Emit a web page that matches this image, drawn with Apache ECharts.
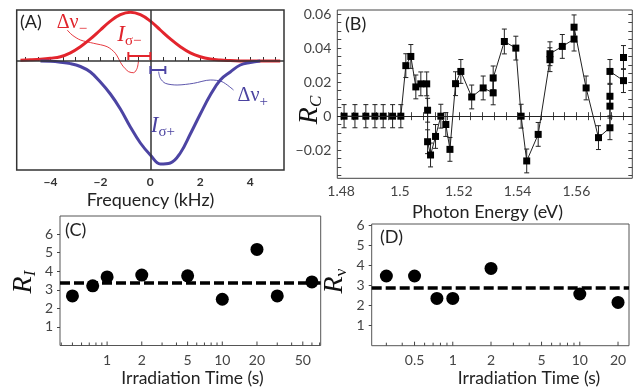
<!DOCTYPE html>
<html><head><meta charset="utf-8">
<script src="https://cdn.jsdelivr.net/npm/echarts@6/dist/echarts.min.js"></script>
<style>html,body{margin:0;padding:0;background:#fff}#c{width:637px;height:388px}</style>
</head><body><div id="c"></div><script>
// ---------- Panel A : spectra ----------
const aFreq = [-5.2,-4.8,-4.4,-4.0,-3.6,-3.2,-2.8,-2.4,-2.0,-1.6,-1.2,-0.8,-0.4,0,0.4,0.8,1.2,1.6,2.0,2.4,2.8,3.2,3.6,4.0,4.4,4.8,5.2];
const aRed  = [0.8,1.2,1.8,2.8,4.3,8.2,14.3,22.1,31,39.9,46.3,48.7,46.3,39.9,31,22.1,14.3,8.2,4.3,2.0,0.9,0.4,0.1,0,0,0,0];
const aBlue = [null,null,0,-0.3,-1.2,-2.6,-5.5,-11,-21,-33,-48,-66,-82,-94,-103,-102,-92,-73,-53,-34,-19,-11,-4,-1.5,0,null,null];
const aTickLabels = [-4,-2,0,2,4];
const aTicks = [-5,-4.5,-4,-3.5,-3,-2.5,-2,-1.5,-1,-0.5,0,0.5,1,1.5,2,2.5,3,3.5,4,4.5,5];
const aRedLinkX = [-3.33,-3.13,-2.8,-2.27,-1.73,-1.4,-1.13,-0.87,-0.67,-0.53,-0.47];
const aRedLinkY = [31,26,21,17.7,14.3,7.7,-4,-10.7,-11.7,-7.3,1];
const aBlueLinkX = [0.33,0.4,0.6,1.07,1.73,2.4,2.87,3.33];
const aBlueLinkY = [-10.7,-17.3,-22.3,-24,-22.3,-19,-20.7,-29];
const aBracketRed = [-0.88, 0, 5];
const aBracketBlue = [0, 0.6, -9];
const aNoteText = ['{d|Δν}{s|−}', '{i|I}{s|σ−}', '{d|Δν}{s|+}', '{i|I}{s|σ+}'];
const aNoteX = [-3.14, -0.84, 4.1, 0.5];
const aNoteY = [38, 26, -35, -65];
const aNoteColor = ['#e0242c','#e0242c','#4b43a0','#4b43a0'];

// ---------- Panel B : R_C vs photon energy ----------
const bEnergy = [1.4810,1.4847,1.4884,1.4915,1.4943,1.4975,1.5003,1.5020,1.5037,1.5054,1.5071,1.5091,1.5094,1.5094,1.5104,1.5121,1.5139,1.5156,1.5170,1.5189,1.5207,1.5244,1.5283,1.5317,1.5317,1.5355,1.5394,1.5412,1.5431,1.5470,1.5510,1.5510,1.5552,1.5592,1.5592,1.5633,1.5675,1.5714,1.5714,1.5714,1.5714,1.5760,1.5760];
const bRc = [0,0,0,0,0,0,0,0.0297,0.0351,0.0172,0.019,0.019,0.0035,-0.015,-0.0228,-0.0119,0,-0.0049,-0.0195,0.0191,0.0263,0.0113,0.0166,0.0137,0.0225,0.0439,0.040,0,-0.0263,-0.0107,0.0332,0.0367,0.041,0.0453,0.0523,0.0166,-0.0126,-0.0068,0.0059,0.0117,0.0263,0.0209,0.0345];
const bErr = [0.0068,0.0068,0.0068,0.0068,0.0068,0.0068,0.0068,0.007,0.007,0.007,0.007,0.007,0.007,0.007,0.007,0.007,0.007,0.007,0.007,0.007,0.007,0.007,0.007,0.007,0.007,0.0073,0.007,0.007,0.007,0.007,0.007,0.007,0.007,0.007,0.0072,0.007,0.007,0.007,0.007,0.007,0.007,0.007,0.007];
const bXLabels = [1.48,1.5,1.52,1.54,1.56];
const bXTicks = [1.48,1.484,1.488,1.492,1.496,1.5,1.504,1.508,1.512,1.516,1.52,1.524,1.528,1.532,1.536,1.54,1.544,1.548,1.552,1.556,1.56,1.564,1.568,1.572,1.576];
const bYLabels = [-0.02,0,0.02,0.04,0.06];
const bYTicks = [-0.035,-0.03,-0.025,-0.02,-0.015,-0.01,-0.005,0,0.005,0.01,0.015,0.02,0.025,0.03,0.035,0.04,0.045,0.05,0.055,0.06];

// ---------- Panel C : R_I vs irradiation time ----------
const cTime = [0.5,0.75,1,2,5,10,20,30,60];
const cR = [2.67,3.21,3.69,3.79,3.75,2.49,5.17,2.67,3.42];
const cMean = 3.39;
const cTickMajor = [1,2,5,10,20,50];
const cTickMinor = [0.4,0.5,0.6,0.7,0.8,0.9,3,4,6,7,8,9,30,40,60,70];
const cYLabels = [1,2,3,4,5,6];

// ---------- Panel D : R_nu vs irradiation time ----------
const dTime = [0.3,0.5,0.75,1,2,10,20];
const dR = [3.45,3.45,2.33,2.33,3.83,2.55,2.13];
const dMean = 2.88;
const dTickMajor = [0.5,1,2,5,10,20];
const dTickMinor = [0.3,0.4,0.6,0.7,0.8,0.9,3,4,6,7,8,9];
const dYLabels = [1,2,3,4,5,6];

// ---------- styling ----------
const SANS = "Lato, 'Open Sans', sans-serif";
const SERIF = "'Liberation Serif', 'DejaVu Serif', serif";
const TICKC = '#444';

const A_X = [-5.35, 5.35], A_Y = [-109, 51];
const B_X = [1.4787, 1.579], B_Y = [-0.0365, 0.0624];
const C_X = [0.39, 71.5], C_Y = [0, 6.97];
const D_X = [0.23, 24.4], D_Y = [-0.035, 6.05];

const chart = echarts.init(document.getElementById('c'), null, {renderer:'canvas'});

function pairs(xs, ys){ const out=[]; for(let i=0;i<xs.length;i++){ if(ys[i]!==null) out.push([xs[i], ys[i]]);} return out; }

function logTickSeries(xi, major, minor, ymin){
  const data = major.map(v=>[v,1]).concat(minor.map(v=>[v,0]));
  return {
    type:'custom', xAxisIndex:xi, yAxisIndex:xi, silent:true, z:5,
    data,
    renderItem(params, api){
      const v = api.value(0), isMajor = api.value(1);
      const p = api.coord([v, ymin]);
      const ch = [{type:'line', shape:{x1:p[0], y1:p[1], x2:p[0], y2:p[1]-(isMajor?4:3)}, style:{stroke:TICKC, lineWidth:1}}];
      if (isMajor) ch.push({type:'text', x:p[0], y:p[1]+8, style:{text:String(v), fill:TICKC, font:'14px '+SANS, align:'center', verticalAlign:'top'}});
      return {type:'group', children: ch};
    }
  };
}

function bracketSeries(b, color){
  return {
    type:'custom', xAxisIndex:0, yAxisIndex:0, silent:true, z:6,
    data:[b],
    renderItem(params, api){
      const p1 = api.coord([api.value(0), api.value(2)]);
      const p2 = api.coord([api.value(1), api.value(2)]);
      const st = {stroke:color, lineWidth:2};
      return {type:'group', children:[
        {type:'line', shape:{x1:p1[0], y1:p1[1], x2:p2[0], y2:p2[1]}, style:st},
        {type:'line', shape:{x1:p1[0], y1:p1[1]-4, x2:p1[0], y2:p1[1]+4}, style:st},
        {type:'line', shape:{x1:p2[0], y1:p2[1]-4, x2:p2[0], y2:p2[1]+4}, style:st}
      ]};
    }
  };
}

const noteRich = (c) => ({
  d:{fontFamily:SERIF, fontSize:20, fill:c},
  i:{fontFamily:SERIF, fontSize:23, fontStyle:'italic', fill:c},
  s:{fontFamily:SERIF, fontSize:15, fill:c, padding:[13,0,0,0]}
});
const rLabelRich = (sub, subItalic) => ({
  r:{fontFamily:SERIF, fontStyle:'italic', fontSize:28, fill:'#111'},
  s:{fontFamily:SERIF, fontStyle: subItalic ? 'italic' : 'normal', fontSize:17, fill:'#111', padding:[14,0,0,0]}
});

const hiddenAxis = {axisLine:{show:false}, axisTick:{show:false}, axisLabel:{show:false}, splitLine:{show:false}};

const option = {
  animation:false,
  backgroundColor:'#fff',
  grid:[
    {left:16.7, top:10, width:267.3, height:160, show:true, borderColor:'#333', borderWidth:1.5},
    {left:337.3, top:10, width:295, height:168.3, show:true, borderColor:'#444', borderWidth:1},
    {left:60, top:216, width:260.7, height:129.5, show:true, borderColor:'#555', borderWidth:1},
    {left:371.7, top:224, width:257.3, height:121.7, show:true, borderColor:'#555', borderWidth:1}
  ],
  xAxis:[
    {gridIndex:0, type:'value', min:A_X[0], max:A_X[1], axisLine:{show:false}, splitLine:{show:false},
     axisTick:{inside:true, length:4, customValues:aTicks, lineStyle:{color:'#333'}},
     axisLabel:{customValues:aTickLabels, margin:6, fontSize:12, fontWeight:'bold', color:'#333', fontFamily:SANS,
       formatter:v => v<0 ? '\u2212'+Math.abs(v) : String(v)}},
    {gridIndex:1, type:'value', min:B_X[0], max:B_X[1], axisLine:{show:false}, splitLine:{show:false},
     axisTick:{inside:true, length:4, customValues:bXTicks, lineStyle:{color:TICKC}},
     axisLabel:{customValues:bXLabels, margin:6, fontSize:14, color:TICKC, fontFamily:SANS,
       formatter:v => String(+v.toFixed(2))}},
    {gridIndex:1, type:'value', position:'top', min:B_X[0], max:B_X[1], axisLine:{show:false}, splitLine:{show:false},
     axisTick:{inside:true, length:4, customValues:bXTicks, lineStyle:{color:TICKC}}, axisLabel:{show:false}},
    Object.assign({gridIndex:2, type:'log', logBase:10, min:C_X[0], max:C_X[1]}, hiddenAxis),
    Object.assign({gridIndex:3, type:'log', logBase:10, min:D_X[0], max:D_X[1]}, hiddenAxis)
  ],
  yAxis:[
    Object.assign({gridIndex:0, type:'value', min:A_Y[0], max:A_Y[1]}, hiddenAxis),
    {gridIndex:1, type:'value', min:B_Y[0], max:B_Y[1], axisLine:{show:false}, splitLine:{show:false},
     axisTick:{inside:true, length:4, customValues:bYTicks, lineStyle:{color:TICKC}},
     axisLabel:{customValues:bYLabels, margin:6, fontSize:14, color:TICKC, fontFamily:SANS,
       formatter:v => v===0 ? '0' : (v<0?'\u2212':'') + Math.abs(v).toFixed(2)}},
    {gridIndex:1, type:'value', position:'right', min:B_Y[0], max:B_Y[1], axisLine:{show:false}, splitLine:{show:false},
     axisTick:{inside:true, length:4, customValues:bYTicks, lineStyle:{color:TICKC}}, axisLabel:{show:false}},
    {gridIndex:2, type:'value', min:C_Y[0], max:C_Y[1], axisLine:{show:false}, splitLine:{show:false},
     axisTick:{inside:false, length:3, customValues:cYLabels, lineStyle:{color:TICKC}},
     axisLabel:{customValues:cYLabels, margin:7, fontSize:14, color:TICKC, fontFamily:SANS}},
    {gridIndex:3, type:'value', min:D_Y[0], max:D_Y[1], axisLine:{show:false}, splitLine:{show:false},
     axisTick:{inside:false, length:3, customValues:dYLabels, lineStyle:{color:TICKC}},
     axisLabel:{customValues:dYLabels, margin:7, fontSize:14, color:TICKC, fontFamily:SANS}}
  ],
  series:[
    // Panel A axes lines
    {type:'line', xAxisIndex:0, yAxisIndex:0, data:[], silent:true, z:1,
     markLine:{silent:true, symbol:'none', label:{show:false}, lineStyle:{color:'#333', width:1.5, type:'solid'},
       data:[{yAxis:0},{xAxis:0}]}},
    {type:'line', xAxisIndex:0, yAxisIndex:0, data:pairs(aFreq, aRed), smooth:0.4, symbol:'none', z:3,
     lineStyle:{color:'#e3252d', width:3}},
    {type:'line', xAxisIndex:0, yAxisIndex:0, data:pairs(aFreq, aBlue), smooth:0.4, symbol:'none', z:3,
     lineStyle:{color:'#4c44a3', width:3}},
    {type:'line', xAxisIndex:0, yAxisIndex:0, data:pairs(aRedLinkX, aRedLinkY), smooth:0.3, symbol:'none', z:4,
     lineStyle:{color:'#e3252d', width:0.9}},
    {type:'line', xAxisIndex:0, yAxisIndex:0, data:pairs(aBlueLinkX, aBlueLinkY), smooth:0.3, symbol:'none', z:4,
     lineStyle:{color:'#4c44a3', width:0.9}},
    bracketSeries(aBracketRed, '#e3252d'),
    bracketSeries(aBracketBlue, '#4c44a3'),
    {type:'custom', xAxisIndex:0, yAxisIndex:0, silent:true, z:7,
     data: aNoteX.map((x,i)=>[x, aNoteY[i], i]),
     renderItem(params, api){
       const i = api.value(2);
       const p = api.coord([api.value(0), api.value(1)]);
       return {type:'text', x:p[0], y:p[1], style:{text:aNoteText[i], fill:aNoteColor[i], rich:noteRich(aNoteColor[i]), align:'center', verticalAlign:'middle'}};
     }},
    // Panel B
    {type:'custom', xAxisIndex:1, yAxisIndex:1, silent:true, z:3,
     data: bEnergy.map((x,i)=>[x, bRc[i], bErr[i]]),
     renderItem(params, api){
       const x = api.value(0), y = api.value(1), e = api.value(2);
       const lo = api.coord([x, y-e]), hi = api.coord([x, y+e]);
       const st = {stroke:'#222', lineWidth:1};
       return {type:'group', children:[
         {type:'line', shape:{x1:lo[0], y1:lo[1], x2:hi[0], y2:hi[1]}, style:st},
         {type:'line', shape:{x1:lo[0]-2.5, y1:lo[1], x2:lo[0]+2.5, y2:lo[1]}, style:st},
         {type:'line', shape:{x1:hi[0]-2.5, y1:hi[1], x2:hi[0]+2.5, y2:hi[1]}, style:st}
       ]};
     }},
    {type:'line', xAxisIndex:1, yAxisIndex:1, data:pairs(bEnergy, bRc), symbol:'rect', symbolSize:7, showAllSymbol:true, z:4,
     itemStyle:{color:'#000'}, lineStyle:{color:'#222', width:1},
     markLine:{silent:true, symbol:'none', label:{show:false}, lineStyle:{color:'#222', width:1, type:'solid'}, data:[{yAxis:0}]}},
    // Panel C
    {type:'line', xAxisIndex:3, yAxisIndex:3, data:[], silent:true, z:1,
     markLine:{silent:true, symbol:'none', label:{show:false}, lineStyle:{color:'#000', width:3.5, type:[10,4]}, data:[{yAxis:cMean}]}},
    {type:'scatter', xAxisIndex:3, yAxisIndex:3, data:pairs(cTime, cR), symbolSize:13, itemStyle:{color:'#000', opacity:1}, z:3},
    logTickSeries(3, cTickMajor, cTickMinor, C_Y[0]),
    // Panel D
    {type:'line', xAxisIndex:4, yAxisIndex:4, data:[], silent:true, z:1,
     markLine:{silent:true, symbol:'none', label:{show:false}, lineStyle:{color:'#000', width:3.5, type:[10,4]}, data:[{yAxis:dMean}]}},
    {type:'scatter', xAxisIndex:4, yAxisIndex:4, data:pairs(dTime, dR), symbolSize:13, itemStyle:{color:'#000', opacity:1}, z:3},
    logTickSeries(4, dTickMajor, dTickMinor, D_Y[0])
  ],
  graphic:[
    {type:'text', x:20, y:22, style:{text:'(A)', font:'18px '+SANS, fill:'#222', align:'left', verticalAlign:'middle'}},
    {type:'text', x:345, y:24, style:{text:'(B)', font:'18px '+SANS, fill:'#222', align:'left', verticalAlign:'middle'}},
    {type:'text', x:65, y:230, style:{text:'(C)', font:'18px '+SANS, fill:'#222', align:'left', verticalAlign:'middle'}},
    {type:'text', x:380, y:237, style:{text:'(D)', font:'18px '+SANS, fill:'#222', align:'left', verticalAlign:'middle'}},
    {type:'text', x:150.5, y:200, style:{text:'Frequency (kHz)', font:'18px '+SANS, fill:'#222', align:'center', verticalAlign:'middle'}},
    {type:'text', x:487.5, y:212, style:{text:'Photon Energy (eV)', font:'18px '+SANS, fill:'#222', align:'center', verticalAlign:'middle'}},
    {type:'text', x:192.5, y:378, style:{text:'Irradiation Time (s)', font:'17.5px '+SANS, fill:'#222', align:'center', verticalAlign:'middle'}},
    {type:'text', x:529, y:378, style:{text:'Irradiation Time (s)', font:'17.5px '+SANS, fill:'#222', align:'center', verticalAlign:'middle'}},
    {type:'text', x:310, y:110, rotation:Math.PI/2, style:{text:'{r|R}{s|C}', fill:'#111', align:'center', verticalAlign:'middle', rich:rLabelRich('C', true)}},
    {type:'text', x:24, y:282, rotation:Math.PI/2, style:{text:'{r|R}{s|I}', fill:'#111', align:'center', verticalAlign:'middle', rich:rLabelRich('I', true)}},
    {type:'text', x:335, y:281, rotation:Math.PI/2, style:{text:'{r|R}{s|ν}', fill:'#111', align:'center', verticalAlign:'middle', rich:rLabelRich('ν', false)}}
  ]
};
chart.setOption(option);
</script></body></html>
